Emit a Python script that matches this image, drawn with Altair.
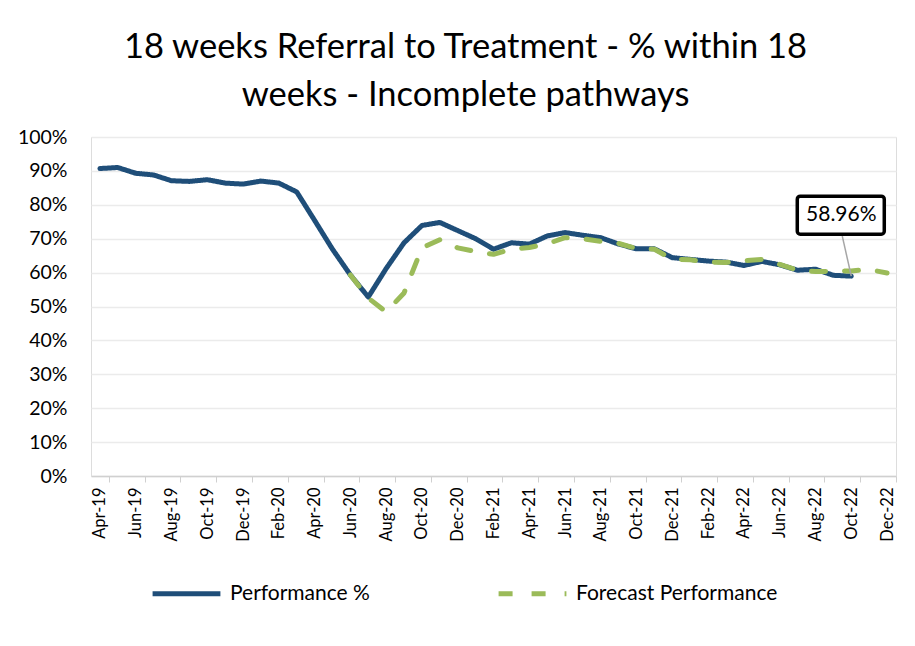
import altair as alt
import pandas as pd

months = ["Apr-19", "May-19", "Jun-19", "Jul-19", "Aug-19", "Sep-19", "Oct-19", "Nov-19", "Dec-19",
          "Jan-20", "Feb-20", "Mar-20", "Apr-20", "May-20", "Jun-20", "Jul-20", "Aug-20", "Sep-20",
          "Oct-20", "Nov-20", "Dec-20", "Jan-21", "Feb-21", "Mar-21", "Apr-21", "May-21", "Jun-21",
          "Jul-21", "Aug-21", "Sep-21", "Oct-21", "Nov-21", "Dec-21", "Jan-22", "Feb-22", "Mar-22",
          "Apr-22", "May-22", "Jun-22", "Jul-22", "Aug-22", "Sep-22", "Oct-22", "Nov-22", "Dec-22"]

# Performance % : Apr-19 .. Oct-22
performance = [90.7, 91.0, 89.3, 88.8, 87.1, 86.9, 87.4, 86.4, 86.1,
               87.0, 86.4, 83.8, 75.4, 66.9, 59.3, 52.8, 61.2, 68.8,
               73.9, 74.8, 72.4, 70.0, 66.9, 68.8, 68.4, 70.8, 71.8,
               71.0, 70.3, 68.4, 67.0, 67.0, 64.4, 63.9, 63.4, 63.1,
               62.1, 63.3, 62.3, 60.7, 61.0, 59.2, 58.96]

# Forecast Performance : Jun-20 .. Dec-22
forecast_start = "Jun-20"
forecast = [59.3, 52.5, 48.4, 54.0, 67.3, 69.7, 67.3, 66.2, 65.4, 66.9,
            67.4, 68.5, 70.3, 70.0, 69.2, 68.6, 67.1, 66.9, 63.9, 63.8,
            63.1, 63.0, 63.5, 63.9, 62.4, 60.7, 60.3, 60.4, 60.5, 60.9, 59.9]

series_names = ["Performance %", "Forecast Performance"]
series_colors = ["#1F4E79", "#9BBB59"]
y_ticks = [0, 10, 20, 30, 40, 50, 60, 70, 80, 90, 100]
label_months = list(range(0, len(months), 2))

title_lines = ["18 weeks Referral to Treatment - % within 18", "weeks - Incomplete pathways"]

FONT = "Lato"

rows = []
for i, v in enumerate(performance):
    rows.append({"idx": i, "month": months[i], "value": v, "series": series_names[0]})
f0 = months.index(forecast_start)
for j, v in enumerate(forecast):
    rows.append({"idx": f0 + j, "month": months[f0 + j], "value": v, "series": series_names[1]})
df = pd.DataFrame(rows)

last_perf = df[df.series == series_names[0]].tail(1).copy()
last_perf["label"] = last_perf["value"].map(lambda v: f"{v:.2f}%")

W, H = 805, 339
half_cat = W / len(months) / 2
month_js = "[" + ",".join(f"'{m}'" for m in months) + "]"

x_scale = alt.Scale(domain=[-0.5, len(months) - 0.5], nice=False, zero=False)
y_scale = alt.Scale(domain=[0, 100], nice=False)
x_axis = alt.Axis(values=label_months, labelExpr=f"{month_js}[datum.value]",
                  labelAngle=270, labelFont=FONT, labelFontSize=16.5, labelColor="#000000",
                  labelPadding=5, labelOverlap=False, labelBound=False, labelFlush=False,
                  tickOffset=half_cat, labelOffset=-half_cat, tickSize=6,
                  tickColor="#d0d0d0", domainColor="#d0d0d0", domainWidth=1.5,
                  grid=False, title=None)
y_axis = alt.Axis(values=y_ticks, labelExpr="datum.value + '%'", labelFont=FONT,
                  labelFontSize=19.5, labelColor="#000000", labelPadding=24,
                  labelOverlap=False, labelBound=False, labelFlush=False,
                  ticks=False, domain=False, grid=True, gridColor="#ebebeb",
                  gridWidth=1.5, title=None)

x_enc = alt.X("idx:Q", scale=x_scale, axis=x_axis)
y_enc = alt.Y("value:Q", scale=y_scale, axis=y_axis)
x2_enc = alt.X2("idx:Q")
y2_enc = alt.Y2("value:Q")

legend = alt.Legend(title=None, orient="none", legendX=59, legendY=420, direction="horizontal",
                    symbolType="stroke", symbolSize=4600, symbolStrokeWidth=5,
                    labelFont=FONT, labelFontSize=21, labelColor="#000000", labelOffset=7,
                    labelLimit=400, columnPadding=118, padding=0)

color_enc = alt.Color("series:N", scale=alt.Scale(domain=series_names, range=series_colors),
                      legend=legend)
dash_enc = alt.StrokeDash("series:N", scale=alt.Scale(domain=series_names, range=[[1, 0], [14, 19]]),
                          legend=legend)

base = alt.Chart(df)
perf_line = base.transform_filter(alt.datum.series == series_names[0]).mark_line(
    strokeWidth=5, strokeCap="round", strokeJoin="round").encode(
    x=x_enc, y=y_enc, color=color_enc, strokeDash=dash_enc)
fc_line = base.transform_filter(alt.datum.series == series_names[1]).mark_line(
    strokeWidth=5, strokeCap="round", strokeJoin="round").encode(
    x=x_enc, y=y_enc, color=color_enc, strokeDash=dash_enc)

ann = alt.Chart(last_perf)
leader = ann.mark_rule(color="#a6a6a6", strokeWidth=1.5, x2Offset=-9, y2Offset=-40).encode(
    x=x_enc, x2=x2_enc, y=y_enc, y2=y2_enc)
box = ann.mark_rect(fill="white", stroke="black", strokeWidth=3.5, cornerRadius=3,
                    xOffset=-54, x2Offset=33, yOffset=-80, y2Offset=-42).encode(
    x=x_enc, x2=x2_enc, y=y_enc, y2=y2_enc)
txt = ann.mark_text(font=FONT, fontSize=21, color="black", dx=-10, dy=-61).encode(
    x=x_enc, y=y_enc, text="label:N")

chart = alt.layer(perf_line, fc_line, leader, box, txt).properties(
    width=W, height=H,
    autosize=alt.AutoSizeParams(type="none"),
    padding={"left": 83, "top": 129, "right": 11, "bottom": 162},
    title=alt.TitleParams(text=title_lines, font=FONT, fontSize=34.5, fontWeight="normal",
                          color="#000000", anchor="middle", dx=-28, offset=14, lineHeight=48),
).configure_view(stroke=None).configure(background="white")

chart.save("out.html", embed_options={"renderer": "svg", "actions": False})
